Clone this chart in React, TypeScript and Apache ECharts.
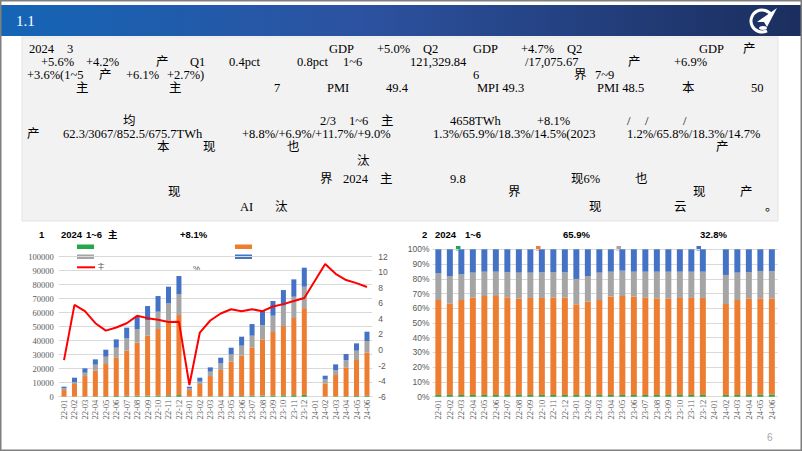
import React, { useEffect, useRef } from "react";
import * as echarts from "echarts";

const categories = [
  "22-01", "22-02", "22-03", "22-04", "22-05", "22-06", "22-07", "22-08", "22-09", "22-10", "22-11", "22-12",
  "23-01", "23-02", "23-03", "23-04", "23-05", "23-06", "23-07", "23-08", "23-09", "23-10", "23-11", "23-12",
  "24-01", "24-02", "24-03", "24-04", "24-05", "24-06",
];

// Chart 1: cumulative consumption by sector
const primaryLeft = [90, 160, 250, 330, 420, 510, 620, 730, 830, 920, 1010, 1150, 90, 170, 260, 350, 440, 540, 660, 780, 880, 980, 1080, 1280, null, 190, 290, 390, 490, 600];
const secondaryLeft = [4670, 8890, 14510, 18240, 22910, 27590, 32240, 37840, 42740, 47410, 52090, 57180, 4670, 8880, 14500, 18700, 24560, 28750, 34580, 40170, 45310, 49500, 55110, 62000, null, 9330, 15190, 20560, 25700, 30830];
const tertiaryLeft = [1190, 1430, 2380, 4290, 5240, 6900, 8810, 9760, 11190, 12380, 13570, 14760, 1190, 1670, 3100, 4760, 5240, 7140, 8330, 10240, 11670, 14520, 15240, 15290, null, 2860, 3570, 5240, 6670, 8330];
const residentialLeft = [1190, 3100, 3100, 3810, 5000, 5950, 7620, 8810, 10000, 11190, 11900, 13100, 1190, 2860, 3100, 4050, 4760, 6430, 8330, 10000, 10480, 11190, 12380, 13570, null, 2620, 4050, 4290, 5240, 6670];
const growthLeft = [-1.3, 5.8, 5.0, 3.45, 2.5, 2.9, 3.45, 4.4, 4.1, 3.9, 3.6, 3.65, -4.5, 2.25, 3.8, 4.7, 5.24, 5.0, 5.24, 5.0, 5.6, 5.9, 6.3, 6.7, null, 11.06, 9.8, 9.0, 8.6, 8.1];

// Chart 2: shares (%)
const primaryShare = [1.2, 1.2, 1.2, 1.2, 1.2, 1.2, 1.2, 1.2, 1.2, 1.2, 1.2, 1.2, 1.2, 1.2, 1.2, 1.2, 1.2, 1.2, 1.2, 1.2, 1.2, 1.2, 1.2, 1.2, null, 1.2, 1.2, 1.2, 1.3, 1.3];
const secondaryShare = [64.4, 62.1, 64.4, 66.0, 67.1, 67.1, 66.2, 65.3, 65.8, 65.8, 66.0, 66.0, 61.5, 63.3, 64.4, 66.7, 67.1, 66.7, 66.2, 65.5, 65.5, 65.8, 65.8, 65.8, null, 61.7, 64.4, 65.5, 65.4, 65.4];
const tertiaryShare = [18.1, 18.6, 17.4, 17.0, 16.5, 16.5, 17.0, 17.7, 17.2, 17.4, 17.4, 17.2, 17.2, 17.4, 18.6, 16.9, 17.2, 16.9, 17.4, 18.1, 18.1, 17.8, 17.8, 17.8, null, 19.7, 18.6, 17.9, 18.6, 18.6];
const residentialShare = [16.3, 18.1, 17.0, 15.8, 15.2, 15.2, 15.6, 15.8, 15.8, 15.6, 15.4, 15.6, 20.1, 18.1, 15.8, 15.2, 14.5, 15.2, 15.2, 15.2, 15.2, 15.2, 15.2, 15.2, null, 17.4, 15.8, 15.4, 14.7, 14.7];

const COLORS = { green: "#22a846", orange: "#ed7d31", gray: "#a5a5a5", blue: "#4472c4", red: "#ff0000" };

// paragraph fragments: [x, y, text]
const paragraph: [number, number, string][] = [
  [29, 49, "2024"], [67, 49, "3"], [329, 49, "GDP"], [377, 49, "+5.0%"], [423, 49, "Q2"], [473, 49, "GDP"], [521, 49, "+4.7%"], [567, 49, "Q2"], [699, 49, "GDP"], [743, 49, "产"],
  [41, 62, "+5.6%"], [86, 62, "+4.2%"], [156, 62, "产"], [190, 62, "Q1"], [229, 62, "0.4pct"], [297, 62, "0.8pct"], [343, 62, "1~6"], [410, 62, "121,329.84"], [525, 62, "/17,075.67"], [628, 62, "产"], [674, 62, "+6.9%"],
  [27, 75, "+3.6%(1~5"], [99, 75, "产"], [126, 75, "+6.1%"], [167, 75, "+2.7%)"], [473, 75, "6"], [574, 75, "界"], [595, 75, "7~9"],
  [76, 88, "主"], [169, 88, "主"], [274, 88, "7"], [327, 88, "PMI"], [386, 88, "49.4"], [477, 88, "MPI 49.3"], [597, 88, "PMI 48.5"], [682, 88, "本"], [751, 88, "50"],
  [123, 121, "均"], [320, 121, "2/3"], [349, 121, "1~6"], [381, 121, "主"], [450, 121, "4658TWh"], [537, 121, "+8.1%"], [627, 121, "/"], [645, 121, "/"], [683, 121, "/"],
  [27, 134, "产"], [63, 134, "62.3/3067/852.5/675.7TWh"], [242, 134, "+8.8%/+6.9%/+11.7%/+9.0%"], [433, 134, "1.3%/65.9%/18.3%/14.5%(2023"], [627, 134, "1.2%/65.8%/18.3%/14.7%"],
  [157, 147, "本"], [203, 147, "现"], [287, 147, "也"], [716, 147, "产"],
  [357, 161, "汰"],
  [320, 179, "界"], [343, 179, "2024"], [380, 179, "主"], [450, 179, "9.8"], [571, 179, "现6%"], [635, 179, "也"],
  [168, 192, "现"], [508, 192, "界"], [693, 192, "现"], [740, 192, "产"],
  [240, 207, "AI"], [275, 207, "汰"], [589, 207, "现"], [674, 207, "云"], [765, 207, "。"],
];

const chartTitles: [number, number, string][] = [
  [39, 234, "1"], [61, 234, "2024"], [86, 234, "1~6"], [108, 234, "主"], [180, 234, "+8.1%"],
  [422, 234, "2"], [435, 234, "2024"], [465, 234, "1~6"], [563, 234, "65.9%"], [700, 234, "32.8%"],
];

const SERIF = "'Liberation Serif', 'Noto Sans CJK SC', serif";
const SANS = "'Liberation Sans', 'Noto Sans CJK SC', sans-serif";

function txt(x: number, y: number, text: string, font: string, fill: string) {
  return {
    type: "text",
    x,
    y,
    style: { text, font, fill, align: "left", verticalAlign: "middle", textAlign: "left", textVerticalAlign: "middle" },
  };
}

export default function App() {
  const ref = useRef<HTMLDivElement>(null);
  useEffect(() => {
    const chart = echarts.init(ref.current!, null, { renderer: "svg" });
    const graphic: any[] = [
      // slide frame
      { type: "rect", shape: { x: 0.75, y: 0.75, width: 800.5, height: 449.5 }, style: { fill: "none", stroke: "#7f7f7f", lineWidth: 1.5 }, z: 10 },
      // header bar
      {
        type: "rect",
        shape: { x: 1, y: 5, width: 800, height: 31 },
        style: {
          fill: new echarts.graphic.LinearGradient(0, 0, 1, 0, [
            { offset: 0, color: "#1565b6" },
            { offset: 0.45, color: "#2c52a0" },
            { offset: 1, color: "#1b2e5e" },
          ]),
        },
      },
      txt(16, 21, "1.1", `15px ${SERIF}`, "#ffffff"),
      // logo
      { type: "arc", shape: { cx: 762, cy: 21, r: 11, startAngle: Math.PI * 0.35, endAngle: Math.PI * 1.85 }, style: { stroke: "#ffffff", lineWidth: 3, fill: "none" } },
      { type: "polygon", shape: { points: [[757, 22], [777, 8], [767, 27], [764, 22]] }, style: { fill: "#ffffff" } },
      { type: "ellipse", shape: { cx: 763, cy: 28, rx: 4, ry: 2 }, style: { fill: "#ffffff" } },
      // text box
      { type: "rect", shape: { x: 22, y: 37, width: 756, height: 184 }, style: { fill: "#f2f2f2", stroke: "#e3e3e3", lineWidth: 1 } },
      ...paragraph.map(([x, y, t]) => txt(x, y, t, `12.5px ${SERIF}`, "#000000")),
      ...chartTitles.map(([x, y, t]) => txt(x, y, t, `bold 9.5px ${SANS}`, "#000000")),
      // left legend
      { type: "rect", shape: { x: 77, y: 244.5, width: 17, height: 4.5 }, style: { fill: COLORS.green } },
      { type: "rect", shape: { x: 77, y: 254.5, width: 17, height: 4.5 }, style: { fill: COLORS.gray } },
      { type: "line", shape: { x1: 77, y1: 267.3, x2: 95, y2: 267.3 }, style: { stroke: COLORS.red, lineWidth: 2 } },
      txt(97, 267.5, "主", `8px ${SANS}`, "#595959"),
      { type: "rect", shape: { x: 235, y: 244.5, width: 17, height: 4.5 }, style: { fill: COLORS.orange } },
      { type: "rect", shape: { x: 235, y: 254.5, width: 17, height: 4.5 }, style: { fill: COLORS.blue } },
      txt(193, 268, "%", `8px ${SANS}`, "#595959"),
      // right legend
      { type: "rect", shape: { x: 456, y: 246, width: 4.5, height: 4.5 }, style: { fill: COLORS.green } },
      { type: "rect", shape: { x: 536, y: 246, width: 4.5, height: 4.5 }, style: { fill: COLORS.orange } },
      { type: "rect", shape: { x: 616.5, y: 246, width: 4.5, height: 4.5 }, style: { fill: COLORS.gray } },
      { type: "rect", shape: { x: 696.5, y: 246, width: 4.5, height: 4.5 }, style: { fill: COLORS.blue } },
      // page number
      txt(767, 437, "6", `10px ${SANS}`, "#a6a6a6"),
    ];

    const xLabel = { rotate: 90, fontSize: 8.5, fontFamily: SERIF, color: "#595959", margin: 3, interval: 0 };

    const option: any = {
      animation: false,
      backgroundColor: "#ffffff",
      graphic,
      grid: [
        { left: 58.8, top: 256.7, width: 313.4, height: 140 },
        { left: 432.6, top: 249.3, width: 345, height: 147.4 },
      ],
      xAxis: [
        {
          type: "category", gridIndex: 0, data: categories,
          axisTick: { show: false }, axisLine: { lineStyle: { color: "#d9d9d9" } }, axisLabel: xLabel,
        },
        {
          type: "category", gridIndex: 1, data: categories,
          axisTick: { show: false }, axisLine: { lineStyle: { color: "#d9d9d9" } }, axisLabel: xLabel,
        },
      ],
      yAxis: [
        {
          type: "value", gridIndex: 0, min: 0, max: 100000, interval: 10000,
          axisLabel: { fontSize: 8.5, fontFamily: SERIF, color: "#595959", margin: 5, formatter: (v: number) => String(v) },
          splitLine: { lineStyle: { color: "#d9d9d9" } }, axisLine: { show: false }, axisTick: { show: false },
        },
        {
          type: "value", gridIndex: 0, min: -6, max: 12, interval: 2, position: "right",
          axisLabel: { fontSize: 8.5, fontFamily: SANS, color: "#595959", margin: 6 },
          splitLine: { show: false }, axisLine: { show: false }, axisTick: { show: false },
        },
        {
          type: "value", gridIndex: 1, min: 0, max: 100, interval: 10,
          axisLabel: { fontSize: 8.5, fontFamily: SANS, color: "#595959", margin: 3, formatter: "{value}%" },
          splitLine: { lineStyle: { color: "#d9d9d9" } }, axisLine: { show: false }, axisTick: { show: false },
        },
      ],
      series: [
        { type: "bar", stack: "L", xAxisIndex: 0, yAxisIndex: 0, data: primaryLeft, barWidth: "48%", itemStyle: { color: COLORS.green } },
        { type: "bar", stack: "L", xAxisIndex: 0, yAxisIndex: 0, data: secondaryLeft, barWidth: "48%", itemStyle: { color: COLORS.orange } },
        { type: "bar", stack: "L", xAxisIndex: 0, yAxisIndex: 0, data: tertiaryLeft, barWidth: "48%", itemStyle: { color: COLORS.gray } },
        { type: "bar", stack: "L", xAxisIndex: 0, yAxisIndex: 0, data: residentialLeft, barWidth: "48%", itemStyle: { color: COLORS.blue } },
        {
          type: "line", xAxisIndex: 0, yAxisIndex: 1, data: growthLeft, connectNulls: true, symbol: "none",
          lineStyle: { color: COLORS.red, width: 2 }, z: 5,
        },
        { type: "bar", stack: "R", xAxisIndex: 1, yAxisIndex: 2, data: primaryShare, barWidth: "52%", itemStyle: { color: COLORS.green } },
        { type: "bar", stack: "R", xAxisIndex: 1, yAxisIndex: 2, data: secondaryShare, barWidth: "52%", itemStyle: { color: COLORS.orange } },
        { type: "bar", stack: "R", xAxisIndex: 1, yAxisIndex: 2, data: tertiaryShare, barWidth: "52%", itemStyle: { color: COLORS.gray } },
        { type: "bar", stack: "R", xAxisIndex: 1, yAxisIndex: 2, data: residentialShare, barWidth: "52%", itemStyle: { color: COLORS.blue } },
      ],
    };
    chart.setOption(option);
    return () => chart.dispose();
  }, []);
  return (
    <div
      ref={ref}
      style={{ position: "absolute", left: 0, top: 0, width: 802, height: 451, background: "#ffffff" }}
    />
  );
}
